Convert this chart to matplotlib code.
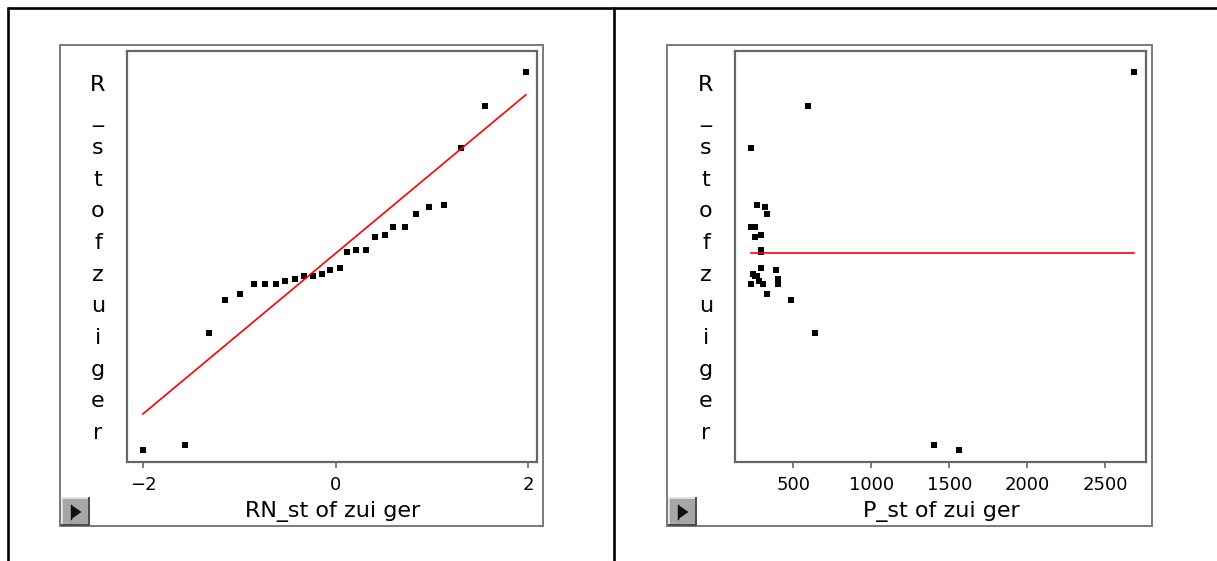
import matplotlib
matplotlib.use('Agg')
import matplotlib.pyplot as plt
from matplotlib.patches import Rectangle, Polygon

# normal quantiles (RN_st) of the standardized residuals
rn_quantiles = [-2.005, -1.569, -1.323, -1.156, -0.997, -0.855, -0.741, -0.626,
                -0.533, -0.429, -0.336, -0.242, -0.149, -0.065, 0.038, 0.114,
                0.205, 0.309, 0.402, 0.506, 0.589, 0.714, 0.828, 0.963,
                1.119, 1.299, 1.545, 1.974]
# standardized residuals of zuiger, sorted
residuals = [-2.455, -2.390, -0.996, -0.586, -0.511, -0.387, -0.387, -0.387,
             -0.349, -0.325, -0.287, -0.287, -0.262, -0.213, -0.188, 0.011,
             0.036, 0.036, 0.198, 0.223, 0.322, 0.322, 0.484, 0.571,
             0.596, 1.305, 1.840, 2.262]
# predicted values (P_st) belonging to each residual
predicted = [1562, 1402, 639, 483, 329, 227, 304, 400,
             278, 400, 253, 265, 240, 387, 291, 291,
             291, 291, 253, 291, 227, 253, 329, 317,
             265, 227, 594, 2684]
ref_intercept = 0.0
ref_slope = 1.0

ylabel_chars = list('R_stofzuiger')
left_xticks = [-2, 0, 2]
right_xticks = [500, 1000, 1500, 2000, 2500]

W, H = 1217, 561
fig = plt.figure(figsize=(W / 100, H / 100), dpi=100)

# background layer in pixel coordinates for the frames and captions
bg = fig.add_axes([0, 0, 1, 1])
bg.set_xlim(0, W)
bg.set_ylim(H, 0)
bg.axis('off')

# table rules
bg.plot([7, W], [7.5, 7.5], color='black', lw=1.9, solid_capstyle='butt')
bg.plot([8, 8], [7, H], color='black', lw=1.9, solid_capstyle='butt')
bg.plot([614, 614], [7, H], color='black', lw=1.9, solid_capstyle='butt')


def panel_frame(x0, x1, label, label_x, letters_x):
    bg.add_patch(Rectangle((x0, 44.5), x1 - x0, 526 - 44.5, fill=False,
                           edgecolor='#7a7a7a', lw=1.4))
    # little popup button in the lower-left corner
    bx, by = x0 + 1.5, 498
    bg.add_patch(Rectangle((bx, by), 27, 27, facecolor='#a6a6a6', edgecolor='none'))
    bg.plot([bx, bx, bx + 27], [by + 27, by, by], color='#e6e6e6', lw=1.2)
    bg.plot([bx, bx + 27, bx + 27], [by + 27, by + 27, by], color='#4a4a4a', lw=1.4)
    bg.add_patch(Polygon([(bx + 10, by + 7), (bx + 10, by + 21), (bx + 20, by + 14)],
                         closed=True, facecolor='#101010', edgecolor='none'))
    bg.plot([bx + 9, bx + 9], [by + 7, by + 21], color='#101010', lw=1.0)
    bg.text(label_x, 511, label, ha='center', va='center', fontsize=16,
            family='DejaVu Sans', color='black')
    for i, ch in enumerate(ylabel_chars):
        bg.text(letters_x, 90.8 + i * 31.64, ch, ha='center', va='baseline',
                fontsize=16, family='DejaVu Sans', color='black')


panel_frame(60, 543, 'RN_st of zui ger', 333, 98)
panel_frame(667, 1151.5, 'P_st of zui ger', 941, 706)


def px_axes(x0, x1, y0, y1):
    return fig.add_axes([x0 / W, 1 - y1 / H, (x1 - x0) / W, (y1 - y0) / H])


def style(ax):
    for s in ax.spines.values():
        s.set_color('#666666')
        s.set_linewidth(1.6)
    ax.set_yticks([])
    ax.tick_params(axis='x', direction='out', length=4, width=1.2,
                   colors='#666666', labelcolor='black', labelsize=13, pad=6)
    for t in ax.get_xticklabels():
        t.set_family('DejaVu Sans')
    ax.set_ylim(-2.604, 2.52)


# normal quantile plot of the residuals
ax1 = px_axes(127, 537, 51, 462)
ax1.plot(rn_quantiles, residuals, 's', color='black', ms=4.6, mew=0)
zline = [min(rn_quantiles), max(rn_quantiles)]
ax1.plot(zline, [ref_intercept + ref_slope * z for z in zline], color='red', lw=1.2)
ax1.set_xlim(-2.17, 2.09)
ax1.set_xticks(left_xticks)
ax1.set_xticklabels(['\u22122', '0', '2'])
style(ax1)

# residuals against predicted values
ax2 = px_axes(735, 1146, 51, 462)
ax2.plot(predicted, residuals, 's', color='black', ms=4.6, mew=0)
ax2.plot([min(predicted), max(predicted)], [ref_intercept, ref_intercept],
         color='red', lw=1.2)
ax2.set_xlim(126, 2761)
ax2.set_xticks(right_xticks)
style(ax2)

fig.savefig('out.png', dpi=100)
